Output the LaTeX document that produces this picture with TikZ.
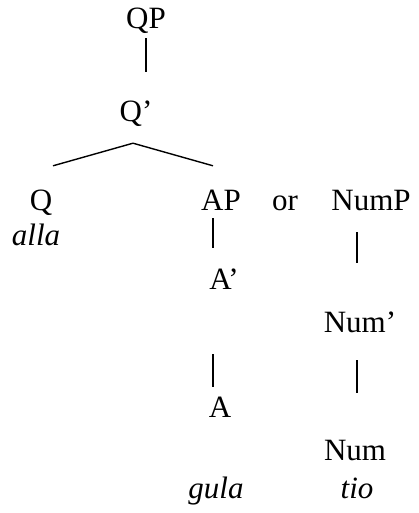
\documentclass[tikz,border=0pt]{standalone}
\usepackage{fontspec}
\setmainfont{Liberation Serif}

\tikzset{
  lab/.style={inner sep=0pt, text height=20pt, text depth=0pt, anchor=base},
  edge/.style={line width=1.4pt}
}

\begin{document}
\begin{tikzpicture}[x=1pt, y=-1pt, font=\fontsize{31}{36}\selectfont]
    \useasboundingbox (0,0) rectangle (418,513);
    \node[lab] (QP) at (146,29) {QP};
    \node[lab] (Qbar) at (136,122) {Q'};
    \node[lab] (Q) at (41,210) {Q};
    \node[lab] (alla) at (36,245) {\itshape alla};
    \node[lab] (AP) at (221,210) {AP};
    \node[lab] (or) at (285,210) {or};
    \node[lab] (NumP) at (371,210) {NumP};
    \node[lab] (Abar) at (224,289) {A'};
    \node[lab] (Numbar) at (360,332) {Num'};
    \node[lab] (A) at (220,417) {A};
    \node[lab] (Num) at (355,460) {Num};
    \node[lab] (gula) at (216,498) {\itshape gula};
    \node[lab] (tio) at (357,498) {\itshape tio};

    \draw[edge, shorten <=9pt, shorten >=30pt] (QP.south) -- (QP.south |- Qbar.north);
    \coordinate (fork) at ([shift={(-3pt,-21pt)}]Qbar.south);
    \draw[edge] (fork) -- ([shift={(12pt,24pt)}]Q.north);
    \draw[edge] (fork) -- ([shift={(-8pt,24pt)}]AP.north);
    \draw[edge, shorten <=8pt, shorten >=21pt] ([xshift=-8pt]AP.south) -- ([xshift=-8pt]AP.south |- Abar.north);
    \draw[edge, shorten <=22pt, shorten >=49pt] ([xshift=-14pt]NumP.south) -- ([xshift=-14pt]NumP.south |- Numbar.north);
    \draw[edge, shorten <=65pt, shorten >=10pt] ([xshift=-11pt]Abar.south) -- ([xshift=-11pt]Abar.south |- A.north);
    \draw[edge, shorten <=28pt, shorten >=47pt] ([xshift=-3pt]Numbar.south) -- ([xshift=-3pt]Numbar.south |- Num.north);
\end{tikzpicture}
\end{document}
